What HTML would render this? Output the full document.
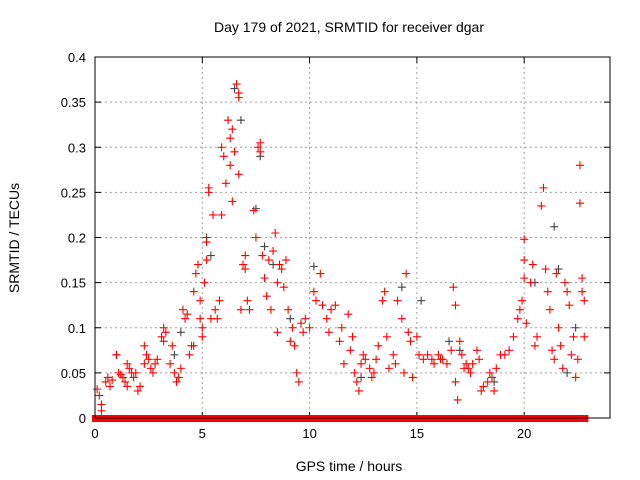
<!DOCTYPE html>
<html><head><meta charset="utf-8"><style>
body{margin:0;background:#fff}
svg{display:block;font-family:"Liberation Sans",sans-serif}
</style></head><body>
<svg id="chart" width="640" height="480">
<text x="349" y="32" font-size="14" text-anchor="middle">Day 179 of 2021, SRMTID for receiver dgar</text>
<text x="349" y="471" font-size="14" text-anchor="middle">GPS time / hours</text>
<text transform="translate(19,238) rotate(-90)" font-size="14" text-anchor="middle">SRMTID / TECUs</text>
<g id="grid"></g><g id="ticks"></g><g id="zero"></g><g id="black"></g><g id="red"></g>
<rect x="95" y="57" width="515" height="361" fill="none" stroke="#000" stroke-width="1"/>
</svg>
<script>
const xTicks=[0,5,10,15,20];
const yTicks=[0,0.05,0.1,0.15,0.2,0.25,0.3,0.35,0.4];
const yTickLabels=["0","0.05","0.1","0.15","0.2","0.25","0.3","0.35","0.4"];
const redHours=[0.1,0.2,0.3,0.3,0.5,0.6,0.7,0.8,1.0,1.1,1.2,1.3,1.4,1.5,1.5,1.6,1.7,1.8,1.9,2.0,2.1,2.3,2.3,2.4,2.5,2.6,2.7,2.8,2.9,3.1,3.2,3.2,3.3,3.5,3.6,3.7,3.8,3.9,4.0,4.1,4.2,4.3,4.4,4.5,4.6,4.7,4.8,4.9,4.9,5.0,5.0,5.1,5.2,5.2,5.3,5.3,5.4,5.5,5.6,5.7,5.8,5.9,5.9,6.0,6.1,6.2,6.3,6.3,6.4,6.4,6.5,6.6,6.7,6.7,6.7,6.8,6.9,7.0,7.0,7.1,7.2,7.4,7.5,7.6,7.7,7.7,7.8,7.9,8.0,8.1,8.2,8.3,8.4,8.5,8.5,8.6,8.7,8.8,8.9,9.0,9.1,9.2,9.3,9.4,9.5,9.6,9.7,9.8,10.0,10.2,10.3,10.5,10.6,10.8,10.9,11.0,11.2,11.4,11.5,11.6,11.8,11.9,12.0,12.1,12.2,12.3,12.4,12.5,12.6,12.8,12.9,13.0,13.1,13.2,13.4,13.5,13.6,13.7,13.9,14.0,14.1,14.3,14.4,14.5,14.6,14.7,14.8,15.0,15.1,15.3,15.5,15.7,15.8,16.0,16.1,16.2,16.4,16.6,16.7,16.8,16.8,16.9,17.0,17.1,17.2,17.3,17.4,17.5,17.6,17.8,17.9,18.0,18.1,18.3,18.4,18.5,18.6,18.7,18.9,19.1,19.3,19.5,19.7,19.8,19.9,20.0,20.0,20.0,20.1,20.3,20.4,20.5,20.6,20.8,20.9,21.0,21.1,21.2,21.3,21.4,21.5,21.6,21.7,21.8,21.9,22.0,22.1,22.2,22.3,22.4,22.5,22.6,22.6,22.7,22.7,22.8,22.8];
const redValues=[0.032,0.025,0.015,0.008,0.04,0.045,0.035,0.042,0.07,0.05,0.048,0.045,0.04,0.035,0.06,0.055,0.05,0.045,0.05,0.03,0.035,0.06,0.08,0.07,0.065,0.055,0.05,0.06,0.065,0.09,0.1,0.085,0.095,0.06,0.08,0.05,0.04,0.045,0.055,0.12,0.11,0.115,0.07,0.08,0.14,0.16,0.17,0.13,0.11,0.09,0.1,0.15,0.175,0.195,0.25,0.255,0.11,0.225,0.12,0.11,0.13,0.225,0.3,0.29,0.26,0.33,0.31,0.28,0.32,0.24,0.295,0.37,0.36,0.355,0.27,0.12,0.17,0.18,0.165,0.13,0.12,0.23,0.2,0.3,0.305,0.295,0.18,0.155,0.135,0.175,0.12,0.185,0.205,0.15,0.095,0.17,0.165,0.145,0.175,0.12,0.085,0.1,0.08,0.05,0.04,0.105,0.095,0.11,0.1,0.14,0.13,0.16,0.125,0.11,0.095,0.12,0.125,0.085,0.1,0.06,0.115,0.075,0.09,0.05,0.04,0.03,0.06,0.07,0.065,0.055,0.045,0.05,0.065,0.08,0.13,0.14,0.09,0.055,0.07,0.06,0.13,0.11,0.05,0.16,0.095,0.085,0.045,0.09,0.07,0.065,0.07,0.065,0.06,0.07,0.065,0.065,0.06,0.075,0.145,0.125,0.04,0.02,0.085,0.07,0.055,0.06,0.055,0.05,0.06,0.075,0.065,0.03,0.035,0.04,0.05,0.045,0.03,0.055,0.07,0.07,0.075,0.09,0.11,0.12,0.13,0.155,0.175,0.198,0.105,0.15,0.17,0.08,0.09,0.235,0.255,0.165,0.14,0.12,0.075,0.065,0.16,0.1,0.08,0.055,0.15,0.14,0.125,0.07,0.09,0.045,0.065,0.28,0.238,0.155,0.14,0.13,0.09];
const blackHours=[1.0,3.7,4.0,4.6,5.2,5.4,6.5,6.8,7.5,7.7,7.9,8.3,9.1,10.2,12.4,14.3,15.2,16.5,17.0,18.6,20.5,21.4,21.6,22.0,22.4];
const blackValues=[0.07,0.07,0.095,0.08,0.2,0.18,0.365,0.33,0.232,0.29,0.19,0.17,0.11,0.168,0.045,0.145,0.13,0.085,0.075,0.04,0.15,0.212,0.165,0.05,0.1];
const zeroStarts=[0,0.2,4.2,6.5,8.2,11.5,12.2,14.0,16.1,17.3,19.6,20.0,21.2,22.3];
const zeroEnds=[0.15,4.1,6.4,8.1,11.4,12.1,13.9,16.0,17.2,19.5,19.95,21.1,22.2,22.85];
const NS='http://www.w3.org/2000/svg';
const X0=95,X1=610,Y0=418,Y1=57;
const sx=h=>X0+h/24*(X1-X0);
const sy=v=>Y0-v/0.4*(Y0-Y1);
function mk(tag,attrs,parent){const e=document.createElementNS(NS,tag);for(const k in attrs)e.setAttribute(k,attrs[k]);document.getElementById(parent).appendChild(e);return e;}
xTicks.forEach(t=>{const x=sx(t);
 if(t>0){const g=mk('line',{x1:x,x2:x,y1:Y1,y2:Y0,stroke:'#a0a0a0','stroke-dasharray':'2,3'},'grid');
 
 }
 mk('line',{x1:x,x2:x,y1:Y0,y2:Y0-6,stroke:'#000'},'ticks');
 mk('line',{x1:x,x2:x,y1:Y1,y2:Y1+6,stroke:'#000'},'ticks');
 const l=mk('text',{x:x,y:Y0+20,'font-size':13,'text-anchor':'middle'},'ticks');l.textContent=t;
 
 
});
yTicks.forEach((t,i)=>{const y=sy(t);
 if(t>0&&t<0.4){const g=mk('line',{x1:X0,x2:X1,y1:y,y2:y,stroke:'#a0a0a0','stroke-dasharray':'2,3'},'grid');
 
 }
 mk('line',{x1:X0,x2:X0+6,y1:y,y2:y,stroke:'#000'},'ticks');
 mk('line',{x1:X1,x2:X1-6,y1:y,y2:y,stroke:'#000'},'ticks');
 const l=mk('text',{x:X0-9,y:y+5,'font-size':13,'text-anchor':'end'},'ticks');l.textContent=yTickLabels[i];
 
 
});
zeroStarts.forEach((s,i)=>{const a=sx(s),b=sx(zeroEnds[i]);
 const r=mk('rect',{x:a-3,y:sy(0)-3,width:b-a+6,height:7,fill:'#ff0000'},'zero');
 
 
});
function plus(h,v,col,grp,name){const x=sx(h),y=sy(v);
 const p=mk('path',{d:`M${x-4},${y}H${x+4}M${x},${y-4}V${y+4}`,stroke:col,'stroke-width':1.1,fill:'none'},grp);
 
 }
blackHours.forEach((h,i)=>plus(h,blackValues[i],'#444','black','black-point'));
redHours.forEach((h,i)=>plus(h,redValues[i],'#ff0000','red','red-point'));
</script>
</body></html>
